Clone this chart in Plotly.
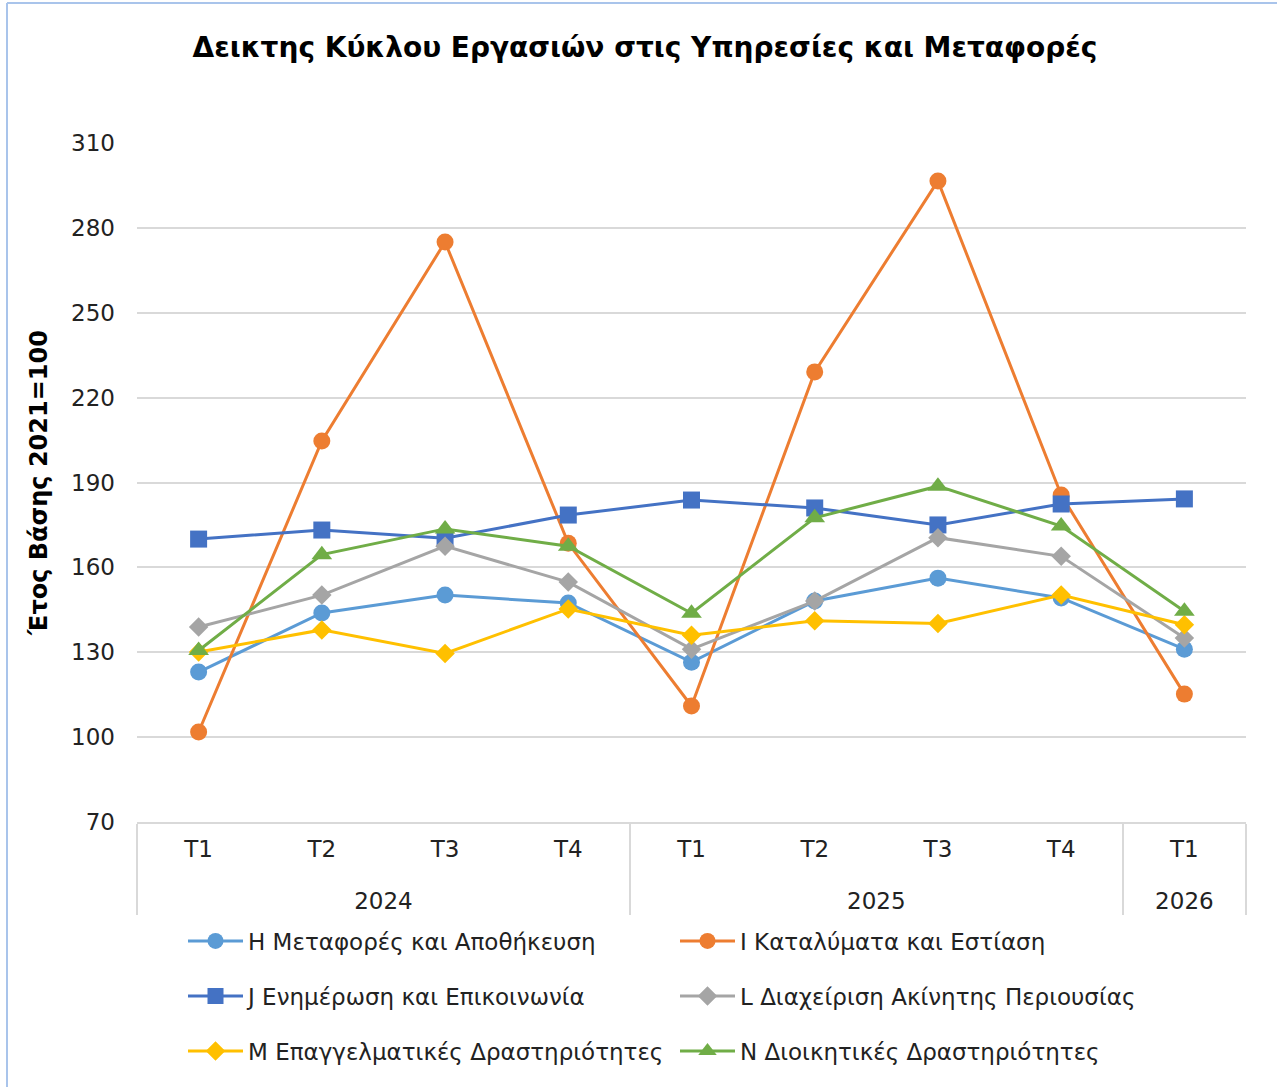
import plotly.graph_objects as go

years = ["2024"] * 4 + ["2025"] * 4 + ["2026"]
quarters = ["T1", "T2", "T3", "T4", "T1", "T2", "T3", "T4", "T1"]

H_vals = [123.0, 143.9, 150.2, 147.4, 126.5, 148.1, 156.2, 149.2, 131.1]
I_vals = [101.8, 204.7, 275.0, 168.5, 111.0, 229.1, 296.6, 185.6, 115.2]
J_vals = [170.0, 173.2, 170.3, 178.5, 183.8, 181.0, 175.0, 182.4, 184.2]
L_vals = [138.9, 150.2, 167.5, 154.8, 131.1, 148.1, 170.5, 163.9, 135.0]
M_vals = [130.1, 137.9, 129.6, 145.3, 136.0, 141.1, 140.2, 150.2, 139.7]
N_vals = [130.6, 164.5, 173.6, 167.5, 143.8, 177.5, 188.7, 174.6, 144.5]

names = [
    "H Μεταφορές και Αποθήκευση",
    "I Καταλύματα και Εστίαση",
    "J Ενημέρωση και Επικοινωνία",
    "L Διαχείριση Ακίνητης Περιουσίας",
    "M Επαγγελματικές Δραστηριότητες",
    "N Διοικητικές Δραστηριότητες",
]
y_ticks = [70, 100, 130, 160, 190, 220, 250, 280, 310]

# year labels get a leading line break so they sit lower, as in the reference
year_labels = ["<br>" + y for y in years]

series = [H_vals, I_vals, J_vals, L_vals, M_vals, N_vals]
colors = ["#5B9BD5", "#ED7D31", "#4472C4", "#A5A5A5", "#FFC000", "#70AD47"]
symbols = ["circle", "circle", "square", "diamond", "diamond", "triangle-up"]
sizes = [17, 17, 17, 15, 15, 18]
legends = ["legend", "legend", "legend2", "legend2", "legend3", "legend3"]

FONT = "DejaVu Sans"
FS = 23
fig = go.Figure()
for vals, nm, c, s, sz, lg in zip(series, names, colors, symbols, sizes, legends):
    fig.add_trace(go.Scatter(
        x=[year_labels, quarters], y=vals, name=nm, mode="lines+markers",
        line=dict(color=c, width=3),
        marker=dict(symbol=s, size=sz, color=c),
        legend=lg,
    ))

L, R, T, B = 137, 31, 143, 265
W, Hh = 1277, 1087
pw = W - L - R
ph = Hh - T - B

def px_x(px):
    return (px - L) / pw

def px_y(py):
    return (Hh - B - py) / ph

leg_common = dict(orientation="h", entrywidth=422, entrywidthmode="pixels",
                  itemwidth=55, font=dict(family=FONT, size=FS, color="#222"),
                  xanchor="left", yanchor="middle", bgcolor="rgba(0,0,0,0)",
                  x=px_x(183))

fig.update_layout(
    width=W, height=Hh,
    margin=dict(l=L, r=R, t=T, b=B, autoexpand=False),
    paper_bgcolor="white", plot_bgcolor="white",
    font=dict(family=FONT, size=FS, color="#222"),
    title=dict(text="<b>Δεικτης Κύκλου Εργασιών στις Υπηρεσίες και Μεταφορές</b>",
               x=645 / W, xanchor="center", y=1 - 47 / Hh, yanchor="middle",
               font=dict(family=FONT, size=28, color="#000")),
    showlegend=True,
    legend=dict(**leg_common, y=px_y(941)),
    legend2=dict(**leg_common, y=px_y(996)),
    legend3=dict(**leg_common, y=px_y(1051)),
    xaxis=dict(type="multicategory", showgrid=False, showline=True,
               automargin=False, range=[-0.5, len(quarters) - 0.5],
               linecolor="#D9D9D9", linewidth=1.5, ticks="",
               ticklabelstandoff=6,
               showdividers=True, dividercolor="#D9D9D9", dividerwidth=1.5,
               tickfont=dict(family=FONT, size=FS, color="#222")),
    yaxis=dict(range=[70, 310], tickvals=y_ticks, showgrid=True,
               automargin=False,
               gridcolor="#D9D9D9", gridwidth=1.5, zeroline=False,
               showline=False, ticks="", ticklen=0, ticklabelstandoff=21,
               tickfont=dict(family=FONT, size=FS, color="#222"),
               title=dict(text="<b>Έτος Βάσης 2021=100</b>", standoff=16,
                          font=dict(family=FONT, size=24, color="#000"))),
    shapes=[
        dict(type="line", xref="paper", yref="paper",
             x0=px_x(7), x1=px_x(1277), y0=px_y(3), y1=px_y(3),
             line=dict(color="#A9C4EB", width=2)),
        dict(type="line", xref="paper", yref="paper",
             x0=px_x(7), x1=px_x(7), y0=px_y(3), y1=px_y(1087),
             line=dict(color="#A9C4EB", width=2)),
    ],
)

fig.write_html("out.html", config={"displayModeBar": False},
               post_script="document.body.style.margin='0px';")
